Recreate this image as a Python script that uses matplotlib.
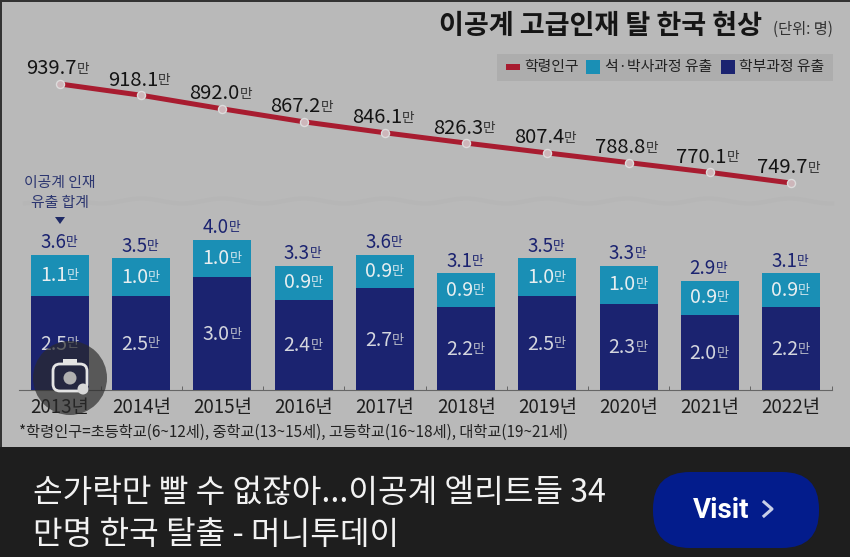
import matplotlib
matplotlib.use("Agg")
import matplotlib.pyplot as plt
from matplotlib.patches import Rectangle, FancyBboxPatch, Circle, Polygon
import numpy as np

plt.rcParams['font.family'] = ['Noto Sans CJK KR', 'DejaVu Sans']

years = ['2013년', '2014년', '2015년', '2016년', '2017년', '2018년', '2019년', '2020년', '2021년', '2022년']
population = [939.7, 918.1, 892.0, 867.2, 846.1, 826.3, 807.4, 788.8, 770.1, 749.7]
undergrad = [2.5, 2.5, 3.0, 2.4, 2.7, 2.2, 2.5, 2.3, 2.0, 2.2]
graduate = [1.1, 1.0, 1.0, 0.9, 0.9, 0.9, 1.0, 1.0, 0.9, 0.9]
totals = [3.6, 3.5, 4.0, 3.3, 3.6, 3.1, 3.5, 3.3, 2.9, 3.1]

W, H = 850, 557
BG = '#b9b9b9'; NAVY = '#1b2370'; CYAN = '#1a8fb5'; RED = '#a81c30'; INK = '#141414'
fig = plt.figure(figsize=(W/100, H/100), dpi=100, facecolor=BG)

# pixel-coordinate overlay for decoration
deco = fig.add_axes([0, 0, 1, 1], zorder=0)
deco.set_xlim(0, W); deco.set_ylim(H, 0); deco.axis('off')
deco.add_patch(Rectangle((0, 0), W, 2, color='#333333', lw=0))
deco.add_patch(Rectangle((0, 0), 2, 447, color='#333333', lw=0))
wx = np.linspace(25, 832, 500)
deco.plot(wx, 201 + 2.5*np.sin(wx/81*2*np.pi), color='#b6b6b6', lw=3)

# chart axes
XL, XR = 19, 832
YB = 390
PX_X = (791 - 60) / 9
xlim = ((XL-60)/PX_X, (XR-60)/PX_X)
PX_BAR = 37.6
ax = fig.add_axes([XL/W, (H-YB)/H, (XR-XL)/W, 250/H], zorder=2)
ax.set_xlim(*xlim); ax.set_ylim(0, 250/PX_BAR)
ax.patch.set_alpha(0)
x = np.arange(len(years))
ax.bar(x, undergrad, width=58/PX_X, color=NAVY, zorder=3)
ax.bar(x, graduate, bottom=undergrad, width=58/PX_X, color=CYAN, zorder=3)
for s in ['top', 'left', 'right']:
    ax.spines[s].set_visible(False)
ax.spines['bottom'].set_color('#666666'); ax.spines['bottom'].set_linewidth(0.8)
ax.set_yticks([])
ax.set_xticks(x + 0.5, labels=[''] * len(x))
ax.tick_params(axis='x', direction='in', length=3, color='#666666', width=0.7)

def val(a, xv, yv, num, size, ucol, col, dx=6, dy=0, weight='medium'):
    """number + small 만 around xv, using pixel offsets"""
    a.annotate(num, (xv, yv), xytext=(dx, dy), textcoords='offset pixels',
               ha='right', va='center', fontsize=size, color=col, fontweight=weight, zorder=6)
    a.annotate('만', (xv, yv), xytext=(dx, dy), textcoords='offset pixels',
               ha='left', va='center', fontsize=size*0.68, color=ucol, zorder=6)

for i in x:
    val(ax, i, undergrad[i]/2, f'{undergrad[i]:.1f}', 14, '#b9bcc9', '#d4d6de', dx=7, dy=-1)
    val(ax, i, undergrad[i] + graduate[i]/2, f'{graduate[i]:.1f}', 14, '#cfe4ec', '#e8eef0', dx=7)
    val(ax, i, undergrad[i] + graduate[i], f'{totals[i]:.1f}', 13.5, NAVY, NAVY, dx=6, dy=12)
    ax.annotate(years[i], (i, 0), xytext=(0, -17), textcoords='offset pixels', ha='center', va='center',
                fontsize=13.5, color='#1e1e1e', annotation_clip=False)

# line axes
PX_LINE = 99 / 190
ly = fig.add_axes([XL/W, (H-YB)/H, (XR-XL)/W, (YB-50)/H], zorder=3)
ly.set_xlim(*xlim)
top_v = 939.7 + (84-50)/PX_LINE
ly.set_ylim(top_v - (YB-50)/PX_LINE, top_v)
ly.axis('off')
ly.plot(x, population, color=RED, lw=3.6, solid_capstyle='butt', zorder=3)
ly.plot(x, population, ls='none', marker='o', ms=5.8, mfc='#cdb6ba', mec='#dcdcdc', mew=1, zorder=4)
for i in x:
    val(ly, i, population[i], f'{population[i]:.1f}', 14.5, '#333333', INK, dx=17, dy=15, weight='medium')

# title, legend, notes
deco.text(762, 26, '이공계 고급인재 탈 한국 현상', ha='right', va='center', fontsize=19.5, fontweight='bold', color='#151515')
deco.text(833, 29, '(단위: 명)', ha='right', va='center', fontsize=11, color='#333333')
deco.add_patch(Rectangle((497, 54), 336, 27, color='#adadad', lw=0))
deco.add_patch(Rectangle((506, 64), 14, 6, color=RED, lw=0))
deco.text(524, 67, '학령인구', ha='left', va='center', fontsize=10.7, color='#222222')
deco.add_patch(Rectangle((586, 60), 14, 14, color=CYAN, lw=0))
deco.text(605, 67, '석·박사과정 유출', ha='left', va='center', fontsize=10.7, color='#222222')
deco.add_patch(Rectangle((721, 60), 14, 14, color=NAVY, lw=0))
deco.text(739, 67, '학부과정 유출', ha='left', va='center', fontsize=10.7, color='#222222')
deco.text(60, 183, '이공계 인재', ha='center', va='center', fontsize=10.7, color='#2c3670')
deco.text(60, 203, '유출 합계', ha='center', va='center', fontsize=10.7, color='#2c3670')
deco.add_patch(Polygon([[55, 217], [65, 217], [60, 224]], color='#1f2a66', lw=0))
deco.text(19, 432, '*학령인구=초등학교(6~12세), 중학교(13~15세), 고등학교(16~18세), 대학교(19~21세)',
          ha='left', va='center', fontsize=11, color='#222222')

# foreground overlays: camera badge and bottom banner
top = fig.add_axes([0, 0, 1, 1], zorder=10)
top.set_xlim(0, W); top.set_ylim(H, 0); top.axis('off'); top.patch.set_alpha(0)
top.add_patch(Circle((70, 378), 37, color='#2a2a2a', alpha=0.68, lw=0))
top.add_patch(FancyBboxPatch((53, 364), 34, 27, boxstyle='round,pad=0,rounding_size=7', fc='none', ec='#e4e4e4', lw=2))
top.add_patch(Rectangle((63, 358.5), 14, 5, color='#e4e4e4', lw=0))
top.add_patch(Circle((70, 378), 6.5, fc='#b0b0b0', ec='#3a3a3a', lw=0))
top.add_patch(Circle((83, 389), 5.5, color='#d8d8d8', lw=0))
top.add_patch(Rectangle((0, 447), W, 110, color='#1e1e1e', lw=0))
top.text(33, 493, '손가락만 빨 수 없잖아...이공계 엘리트들 34', ha='left', va='center', fontsize=23.2, color='#f2f2f2', fontweight='medium')
top.text(33, 535, '만명 한국 탈출 - 머니투데이', ha='left', va='center', fontsize=23.2, color='#f2f2f2', fontweight='medium')
top.add_patch(FancyBboxPatch((653, 472), 166, 76, boxstyle='round,pad=0,rounding_size=37', fc='#031c8c', ec='none'))
top.text(721, 510, 'Visit', ha='center', va='center', fontsize=20, color='white', fontweight='bold', family=['Roboto', 'DejaVu Sans'])
top.plot([764, 772, 764], [502, 509, 516], color='#c8cfe8', lw=2.2)

fig.savefig('out.png', dpi=100, facecolor=BG)
